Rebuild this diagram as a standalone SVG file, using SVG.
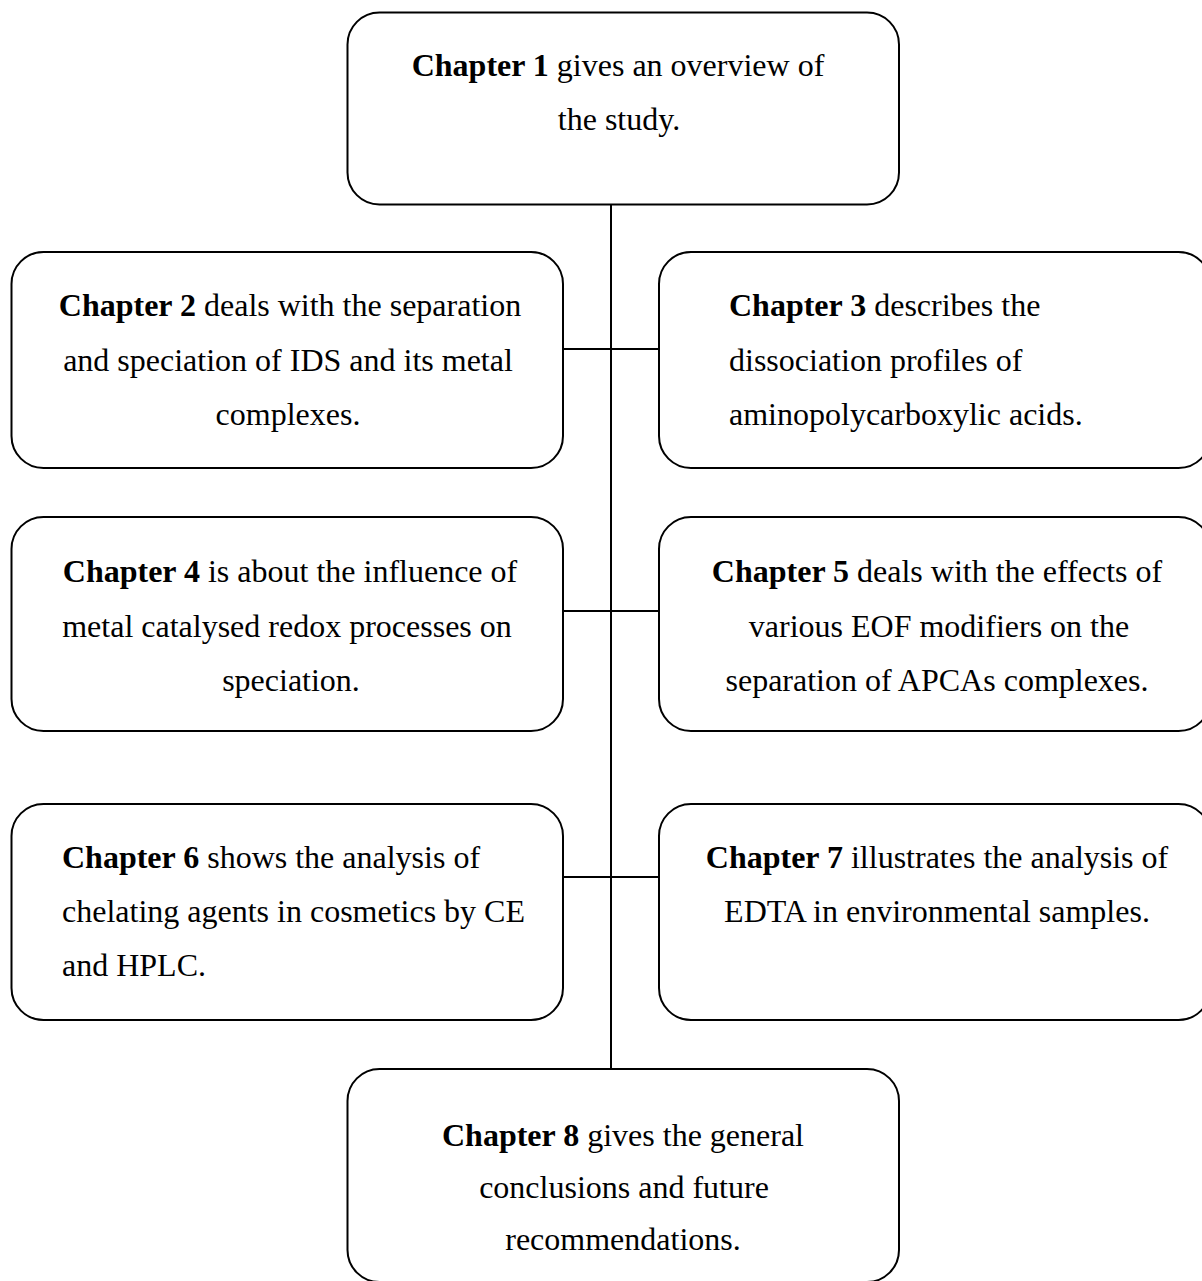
<svg xmlns="http://www.w3.org/2000/svg" width="1202" height="1281" viewBox="0 0 1202 1281">
<style>
.box{fill:#fff;stroke:#000;stroke-width:2}
.con{stroke:#000;stroke-width:2;fill:none}
text{font-family:"Liberation Serif","Times New Roman",serif;font-size:32px;fill:#000}
.c{text-anchor:middle}
.b{font-weight:bold}
</style>
<rect width="1202" height="1281" fill="#fff"/>
<g id="connectors">
<line class="con" x1="611" y1="204" x2="611" y2="1069"/>
<line class="con" x1="563" y1="349" x2="659" y2="349"/>
<line class="con" x1="563" y1="611" x2="659" y2="611"/>
<line class="con" x1="563" y1="877" x2="659" y2="877"/>
</g>
<g id="ch1">
<rect class="box" x="347.5" y="12.5" width="551.5" height="192" rx="32"/>
<text class="c" x="618" y="76"><tspan class="b">Chapter 1</tspan> gives an overview of</text>
<text class="c" x="619" y="130">the study.</text>
</g>
<g id="ch2">
<rect class="box" x="11.5" y="252" width="551.5" height="216" rx="32"/>
<text class="c" x="290" y="316"><tspan class="b">Chapter 2</tspan> deals with the separation</text>
<text class="c" x="288" y="371">and speciation of IDS and its metal</text>
<text class="c" x="288" y="425">complexes.</text>
</g>
<g id="ch3">
<rect class="box" x="659" y="252" width="551.5" height="216" rx="32"/>
<text x="729" y="316"><tspan class="b">Chapter 3</tspan> describes the</text>
<text x="729" y="371">dissociation profiles of</text>
<text x="729" y="425">aminopolycarboxylic acids.</text>
</g>
<g id="ch4">
<rect class="box" x="11.5" y="517" width="551.5" height="214" rx="32"/>
<text class="c" x="290" y="582"><tspan class="b">Chapter 4</tspan> is about the influence of</text>
<text class="c" x="287" y="637">metal catalysed redox processes on</text>
<text class="c" x="291" y="691">speciation.</text>
</g>
<g id="ch5">
<rect class="box" x="659" y="517" width="551.5" height="214" rx="32"/>
<text class="c" x="937" y="582"><tspan class="b">Chapter 5</tspan> deals with the effects of</text>
<text class="c" x="939" y="637">various EOF modifiers on the</text>
<text class="c" x="937" y="691">separation of APCAs complexes.</text>
</g>
<g id="ch6">
<rect class="box" x="11.5" y="804" width="551.5" height="216" rx="32"/>
<text x="62" y="868"><tspan class="b">Chapter 6</tspan> shows the analysis of</text>
<text x="62" y="922">chelating agents in cosmetics by CE</text>
<text x="62" y="976">and HPLC.</text>
</g>
<g id="ch7">
<rect class="box" x="659" y="804" width="551.5" height="216" rx="32"/>
<text class="c" x="937" y="868"><tspan class="b">Chapter 7</tspan> illustrates the analysis of</text>
<text class="c" x="937" y="922">EDTA in environmental samples.</text>
</g>
<g id="ch8">
<rect class="box" x="347.5" y="1069" width="551.5" height="213" rx="32"/>
<text class="c" x="623" y="1146"><tspan class="b">Chapter 8</tspan> gives the general</text>
<text class="c" x="624" y="1198">conclusions and future</text>
<text class="c" x="623" y="1250">recommendations.</text>
</g>
</svg>
